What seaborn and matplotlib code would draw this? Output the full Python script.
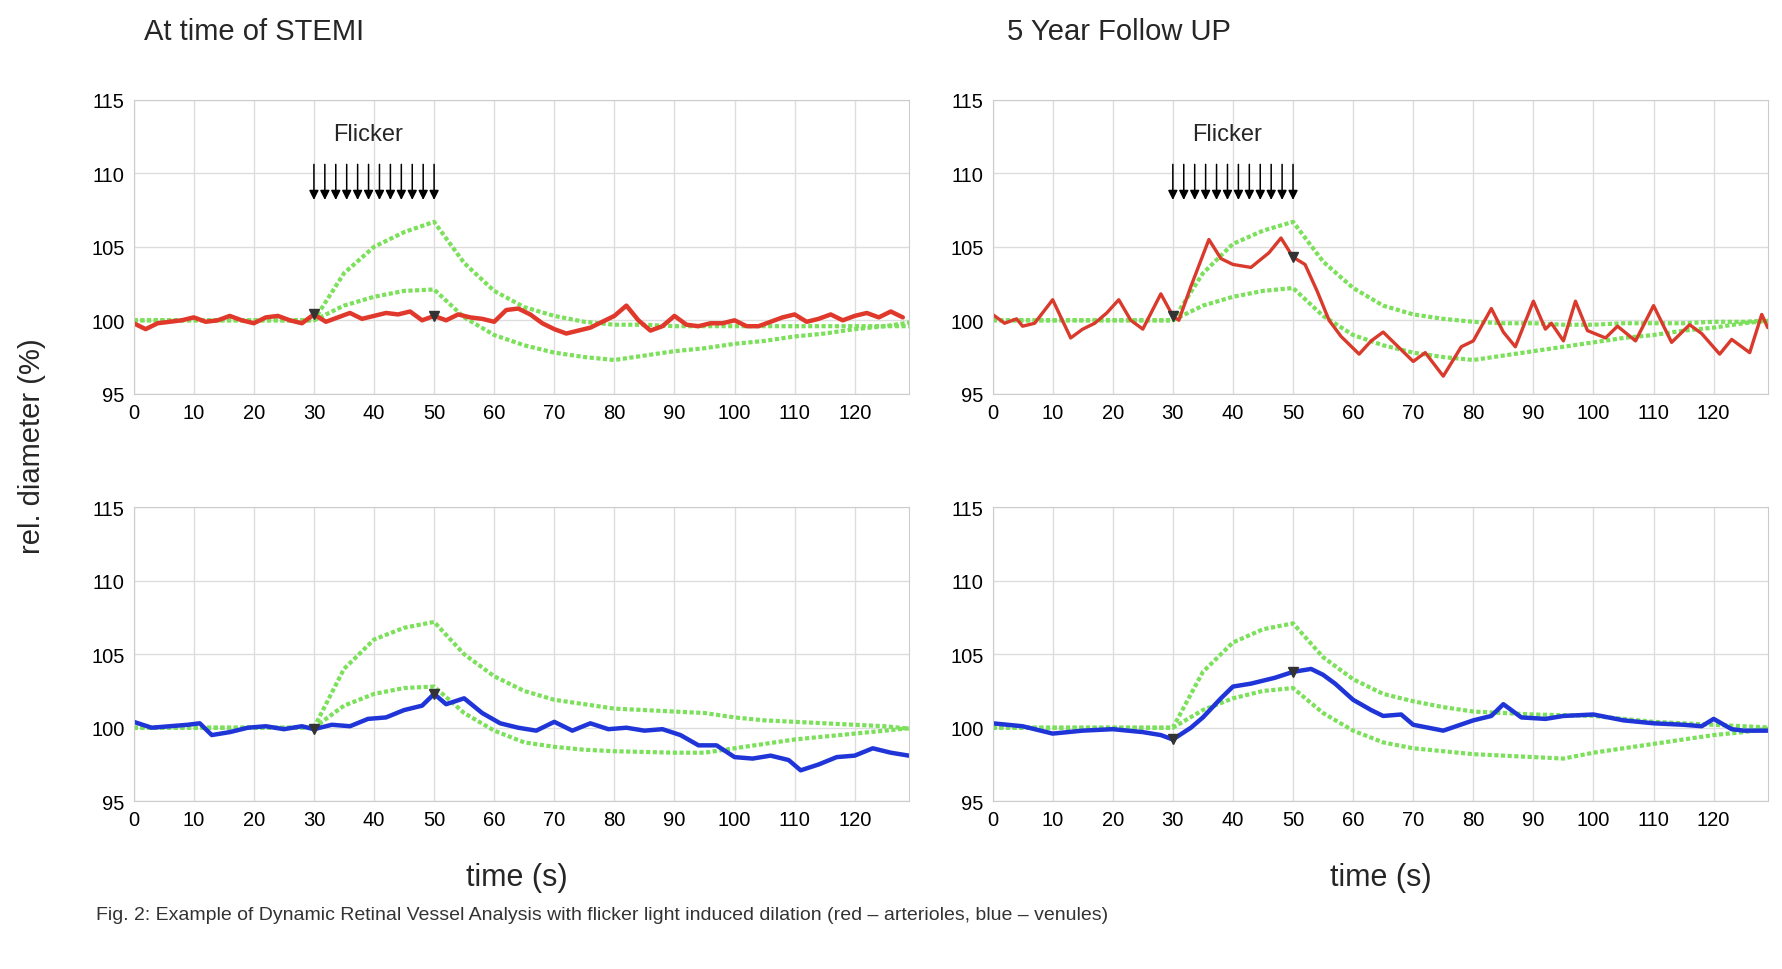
import seaborn as sns
import pandas as pd
import matplotlib.pyplot as plt

sns.set_style('whitegrid')
plt.rcParams['font.family'] = ['Liberation Sans', 'DejaVu Sans']

fig = plt.figure(figsize=(17.82, 9.70), dpi=100)
L, R, W = 0.075, 0.557, 0.435
ax_tl = fig.add_axes([L, 0.593, W, 0.303])
ax_tr = fig.add_axes([R, 0.593, W, 0.303])
ax_bl = fig.add_axes([L, 0.173, W, 0.303])
ax_br = fig.add_axes([R, 0.173, W, 0.303])

# green envelopes (upper, lower) sampled every 5 s from 0..130
env_t = [0, 5, 10, 15, 20, 25, 30, 35, 40, 45, 50, 55, 60, 65, 70, 75, 80, 85, 90, 95, 100, 105, 110, 115, 120, 125, 130]
env = {
    'tl': ([100]*7 + [103.2, 105.0, 106.0, 106.7, 103.9, 102.0, 100.9, 100.3, 99.9, 99.7, 99.7, 99.6, 99.6, 99.6, 99.6, 99.6, 99.6, 99.6, 99.6, 99.6],
           [100]*7 + [101.0, 101.6, 102.0, 102.1, 100.2, 99.0, 98.3, 97.8, 97.5, 97.3, 97.6, 97.9, 98.1, 98.4, 98.6, 98.9, 99.1, 99.4, 99.6, 99.9]),
    'tr': ([100]*7 + [103.2, 105.2, 106.1, 106.7, 104.0, 102.2, 101.0, 100.4, 100.1, 99.9, 99.8, 99.8, 99.7, 99.7, 99.8, 99.8, 99.8, 99.9, 99.9, 100.0],
           [100]*7 + [101.0, 101.6, 102.0, 102.2, 100.3, 99.0, 98.3, 97.8, 97.5, 97.3, 97.6, 97.9, 98.2, 98.5, 98.8, 99.0, 99.3, 99.5, 99.8, 100.0]),
    'bl': ([100]*7 + [104.0, 106.0, 106.8, 107.2, 105.0, 103.5, 102.5, 101.9, 101.6, 101.3, 101.2, 101.1, 101.0, 100.7, 100.5, 100.4, 100.3, 100.2, 100.1, 99.9],
           [100]*7 + [101.5, 102.3, 102.7, 102.8, 101.0, 99.8, 99.0, 98.7, 98.5, 98.4, 98.35, 98.3, 98.3, 98.6, 98.9, 99.2, 99.4, 99.6, 99.8, 100.0]),
    'br': ([100]*7 + [103.8, 105.8, 106.7, 107.1, 104.8, 103.3, 102.3, 101.8, 101.4, 101.1, 101.0, 100.9, 100.85, 100.8, 100.6, 100.4, 100.3, 100.2, 100.1, 100.0],
           [100]*7 + [101.2, 102.0, 102.5, 102.7, 101.0, 99.8, 99.0, 98.6, 98.4, 98.2, 98.1, 98.0, 97.9, 98.3, 98.6, 98.9, 99.2, 99.5, 99.7, 100.0]),
}

tl_t = list(range(0, 130, 2))
tl_y = [99.8, 99.4, 99.8, 99.9, 100.0, 100.2, 99.9, 100.0, 100.3, 100.0, 99.8, 100.2, 100.3, 100.0, 99.8, 100.4, 99.9, 100.2, 100.5, 100.1,
        100.3, 100.5, 100.4, 100.6, 100.0, 100.3, 100.0, 100.4, 100.2, 100.1, 99.9, 100.7, 100.8, 100.4, 99.8, 99.4, 99.1, 99.3, 99.5, 99.9,
        100.3, 101.0, 100.0, 99.3, 99.6, 100.3, 99.7, 99.6, 99.8, 99.8, 100.0, 99.6, 99.6, 99.9, 100.2, 100.4, 99.9, 100.1, 100.4, 100.0,
        100.3, 100.5, 100.2, 100.6, 100.2]
tr_t = [0, 2, 4, 5, 7, 10, 13, 15, 17, 19, 21, 23, 25, 28, 30, 31, 33, 36, 38, 40, 43, 46, 48, 50, 52, 54, 56, 58, 61, 63, 65, 67, 70, 72, 75,
        78, 80, 83, 85, 87, 90, 92, 93, 95, 97, 99, 102, 104, 107, 110, 113, 116, 118, 121, 123, 126, 128, 129]
tr_y = [100.4, 99.8, 100.1, 99.6, 99.8, 101.4, 98.8, 99.4, 99.8, 100.5, 101.4, 100.0, 99.4, 101.8, 100.3, 100.0, 102.3, 105.5, 104.2, 103.8,
        103.6, 104.6, 105.6, 104.3, 103.8, 102.0, 100.0, 98.9, 97.7, 98.6, 99.2, 98.4, 97.2, 97.8, 96.2, 98.2, 98.6, 100.8, 99.2, 98.2,
        101.3, 99.4, 99.8, 98.6, 101.3, 99.3, 98.8, 99.6, 98.6, 101.0, 98.5, 99.7, 99.1, 97.7, 98.7, 97.8, 100.4, 99.5]
bl_t = [0, 3, 6, 9, 11, 13, 16, 19, 22, 25, 28, 30, 33, 36, 39, 42, 45, 48, 50, 52, 55, 58, 61, 64, 67, 70, 73, 76, 79, 82, 85, 88, 91,
        94, 97, 100, 103, 106, 109, 111, 114, 117, 120, 123, 126, 129]
bl_y = [100.4, 100.0, 100.1, 100.2, 100.3, 99.5, 99.7, 100.0, 100.1, 99.9, 100.1, 99.9, 100.2, 100.1, 100.6, 100.7, 101.2, 101.5, 102.3, 101.6,
        102.0, 101.0, 100.3, 100.0, 99.8, 100.4, 99.8, 100.3, 99.9, 100.0, 99.8, 99.9, 99.5, 98.8, 98.8, 98.0, 97.9, 98.1, 97.8, 97.1,
        97.5, 98.0, 98.1, 98.6, 98.3, 98.1]
br_t = [0, 5, 10, 15, 20, 25, 28, 30, 33, 35, 38, 40, 43, 45, 47, 50, 53, 55, 57, 60, 63, 65, 68, 70, 75, 80, 83, 85, 88, 92, 95, 100, 105,
        110, 115, 118, 120, 123, 125, 129]
br_y = [100.3, 100.1, 99.6, 99.8, 99.9, 99.7, 99.5, 99.2, 100.0, 100.7, 102.0, 102.8, 103.0, 103.2, 103.4, 103.8, 104.0, 103.6, 103.0, 101.9,
        101.2, 100.8, 100.9, 100.2, 99.8, 100.5, 100.8, 101.6, 100.7, 100.6, 100.8, 100.9, 100.5, 100.3, 100.2, 100.1, 100.6, 99.9, 99.8, 99.8]

panels = [(ax_tl, 'tl', tl_t, tl_y, '#e0382b'), (ax_tr, 'tr', tr_t, tr_y, '#d93a2c'),
          (ax_bl, 'bl', bl_t, bl_y, '#1f35d8'), (ax_br, 'br', br_t, br_y, '#1f35d8')]

for ax, key, t, y, col in panels:
    up, lo = env[key]
    df_env = pd.DataFrame({'t': env_t, 'up': up, 'lo': lo})
    for c in ['up', 'lo']:
        sns.lineplot(data=df_env, x='t', y=c, ax=ax, color='#7be05a', lw=3, linestyle=(0, (1, 0.6)))
    df = pd.DataFrame({'t': t, 'y': y})
    sns.lineplot(data=df, x='t', y='y', ax=ax, color=col, lw=3.2 if key != 'tr' else 2.4)
    # markers at start/end of flicker
    for m in [30, 50]:
        ym = df.set_index('t')['y'].reindex([m]).iloc[0] if m in t else 100
        ax.plot([m], [ym], marker='v', color='#333333', ms=7, zorder=5)
    ax.set_xlim(0, 129)
    ax.set_ylim(95, 115)
    ax.set_xticks(range(0, 130, 10))
    ax.set_yticks(range(95, 116, 5))
    ax.set_xlabel('')
    ax.set_ylabel('')
    ax.tick_params(labelsize=14.5, pad=3, labelcolor='black')
    ax.grid(color='#dddddd', lw=1)
    for s in ax.spines.values():
        s.set_color('#cccccc')

for ax in [ax_tl, ax_tr]:
    ax.text(39, 112.7, 'Flicker', ha='center', va='center', fontsize=17)
    for i in range(12):
        x = 30 + i * 20 / 11
        ax.annotate('', xy=(x, 108), xytext=(x, 110.8),
                    arrowprops=dict(arrowstyle='-|>', color='black', lw=1.1, mutation_scale=14))

fig.text(0.081, 0.967, 'At time of STEMI', fontsize=21, va='center')
fig.text(0.565, 0.967, '5 Year Follow UP', fontsize=21, va='center')
fig.text(0.018, 0.54, 'rel. diameter (%)', fontsize=21, rotation=90, va='center', ha='center')
fig.text(0.29, 0.095, 'time (s)', fontsize=22, ha='center', va='center')
fig.text(0.775, 0.095, 'time (s)', fontsize=22, ha='center', va='center')
fig.text(0.054, 0.056, 'Fig. 2: Example of Dynamic Retinal Vessel Analysis with flicker light induced dilation (red \u2013 arterioles, blue \u2013 venules)',
         fontsize=14, va='center', color='#333333')

fig.savefig('out.png', dpi=100)
